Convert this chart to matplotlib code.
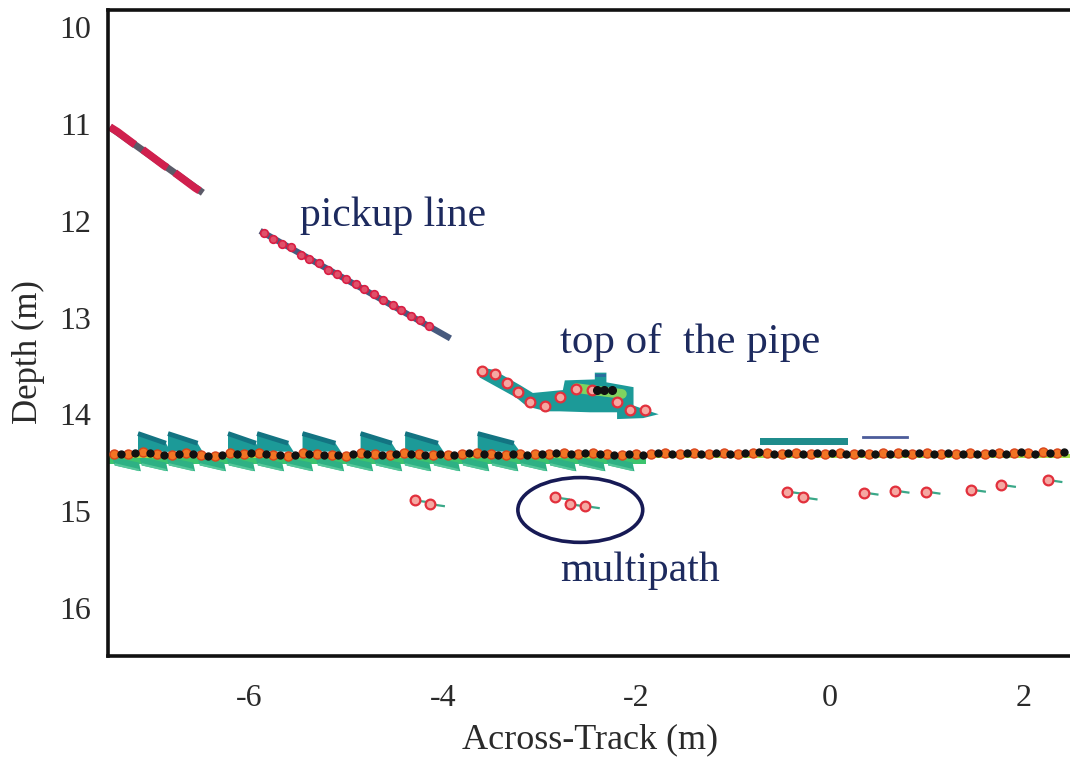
import matplotlib
matplotlib.use("Agg")
import matplotlib.pyplot as plt
from matplotlib.patches import Ellipse, Polygon

plt.rcParams['font.family'] = ['Liberation Serif', 'DejaVu Serif']

# ---- pickup line soundings ----
pickup_a_x = [-7.44, -7.36, -7.28, -7.20, -7.12, -7.04, -6.96, -6.88, -6.80, -6.72, -6.64, -6.56, -6.48]
pickup_a_depth = [11.03, 11.08, 11.14, 11.20, 11.25, 11.31, 11.37, 11.43, 11.48, 11.54, 11.60, 11.66, 11.71]

pickup_b_x = [-5.85, -5.76, -5.66, -5.57, -5.47, -5.38, -5.28, -5.19, -5.09, -5.00,
              -4.90, -4.81, -4.71, -4.62, -4.52, -4.43, -4.33, -4.24, -4.14]
pickup_b_depth = [12.13, 12.19, 12.24, 12.27, 12.35, 12.39, 12.44, 12.51, 12.55, 12.60,
                  12.65, 12.71, 12.76, 12.82, 12.87, 12.92, 12.98, 13.03, 13.09]
pickup_b_trace_x = [-5.86, -3.95]
pickup_b_trace_depth = [12.12, 13.20]

# ---- top of the pipe ----
pipe_x = [-3.60, -3.46, -3.34, -3.22, -3.10, -2.94, -2.79, -2.62, -2.46, -2.20, -2.07, -1.91]
pipe_depth = [13.55, 13.58, 13.68, 13.77, 13.87, 13.91, 13.82, 13.74, 13.75, 13.87, 13.96, 13.96]
pipe_top_x = [-2.41, -2.33, -2.25]
pipe_top_depth = [13.75, 13.75, 13.75]

pipe_footprint_x = [-3.63, -3.48, -3.20, -3.07, -2.76, -2.74, -2.43, -2.43, -2.31, -2.31, -2.03, -2.03,
                    -1.86, -1.77, -1.93, -2.20, -2.20, -2.48, -2.79, -2.93, -3.13, -3.24, -3.62]
pipe_footprint_depth = [13.51, 13.54, 13.70, 13.78, 13.75, 13.65, 13.64, 13.57, 13.57, 13.67, 13.72, 13.91,
                        13.97, 14.00, 14.04, 14.05, 13.98, 13.98, 13.97, 13.97, 13.92, 13.83, 13.62]
pipe_cap_x = [-2.43, -2.31]
pipe_cap_depth = [13.58, 13.62]

# ---- seabed ----
seabed_a_x = [-7.40, -7.25, -7.10, -6.95, -6.80, -6.65, -6.50, -6.35, -6.20, -6.05,
              -5.90, -5.75, -5.60, -5.45, -5.30, -5.15, -5.00, -4.85, -4.70, -4.55,
              -4.40, -4.25, -4.10, -3.95, -3.80, -3.65, -3.50, -3.35, -3.20, -3.05,
              -2.90, -2.75, -2.60, -2.45, -2.30, -2.15, -2.00, -1.85, -1.70, -1.55,
              -1.40, -1.25, -1.10, -0.95, -0.80, -0.65, -0.50, -0.35, -0.20, -0.05,
              0.10, 0.25, 0.40, 0.55, 0.70, 0.85, 1.00, 1.15, 1.30, 1.45,
              1.60, 1.75, 1.90, 2.05, 2.20, 2.35]
seabed_a_depth = [14.41, 14.41, 14.39, 14.41, 14.42, 14.40, 14.42, 14.43, 14.40, 14.41,
                  14.40, 14.42, 14.43, 14.40, 14.41, 14.42, 14.43, 14.40, 14.41, 14.42,
                  14.40, 14.41, 14.42, 14.42, 14.41, 14.40, 14.41, 14.42, 14.41, 14.41,
                  14.41, 14.40, 14.41, 14.40, 14.41, 14.42, 14.41, 14.41, 14.40, 14.41,
                  14.40, 14.41, 14.40, 14.41, 14.40, 14.40, 14.41, 14.40, 14.41, 14.41,
                  14.40, 14.41, 14.41, 14.40, 14.40, 14.41, 14.40, 14.41, 14.41, 14.40,
                  14.41, 14.40, 14.40, 14.40, 14.39, 14.40]
seabed_b_x = [-7.33, -7.18, -7.03, -6.88, -6.73, -6.58, -6.43, -6.28, -6.13, -5.98,
              -5.83, -5.68, -5.53, -5.38, -5.23, -5.08, -4.93, -4.78, -4.63, -4.48,
              -4.33, -4.18, -4.03, -3.88, -3.73, -3.58, -3.43, -3.28, -3.13, -2.98,
              -2.83, -2.68, -2.53, -2.38, -2.23, -2.08, -1.93, -1.78, -1.63, -1.48,
              -1.33, -1.18, -1.03, -0.88, -0.73, -0.58, -0.43, -0.28, -0.13, 0.02,
              0.17, 0.32, 0.47, 0.62, 0.77, 0.92, 1.07, 1.22, 1.37, 1.52,
              1.67, 1.82, 1.97, 2.12, 2.27, 2.42]
seabed_b_depth = [14.41, 14.40, 14.40, 14.42, 14.41, 14.41, 14.43, 14.42, 14.41, 14.40,
                  14.41, 14.42, 14.42, 14.41, 14.42, 14.42, 14.41, 14.41, 14.42, 14.41,
                  14.41, 14.42, 14.41, 14.42, 14.40, 14.41, 14.42, 14.41, 14.42, 14.41,
                  14.40, 14.41, 14.40, 14.41, 14.42, 14.41, 14.42, 14.40, 14.41, 14.40,
                  14.41, 14.40, 14.41, 14.40, 14.39, 14.41, 14.40, 14.41, 14.40, 14.40,
                  14.41, 14.40, 14.41, 14.41, 14.40, 14.40, 14.41, 14.40, 14.41, 14.41,
                  14.40, 14.41, 14.39, 14.41, 14.40, 14.39]

# teal beam footprints above the seabed (left edge of each)
seabed_wedge_x = [-7.15, -6.84, -6.22, -5.92, -5.45, -4.85, -4.39, -3.64]
seabed_wedge_len = [0.34, 0.36, 0.34, 0.38, 0.40, 0.38, 0.40, 0.44]
# green returns below the seabed
seabed_teeth_x = [-7.42, -7.14, -6.86, -6.54, -6.24, -5.94, -5.64, -5.32, -5.02,
                  -4.72, -4.42, -4.12, -3.82, -3.52, -3.22, -2.92, -2.62, -2.32]
green_band_x = [-7.46, -1.90]
light_band_x = [-7.46, 2.48]

# returns just above the seabed on the right side
ridge_bar_x = [-0.72, 0.19]
ridge_bar_depth = [14.25, 14.32]
ridge_line_x = [0.34, 0.80]
ridge_line_depth = 14.24

# ---- multipath ----
multipath_x = [-4.29, -4.13, -2.84, -2.69, -2.53, -0.44, -0.28, 0.35, 0.67, 0.99, 1.46, 1.77, 2.25]
multipath_depth = [14.89, 14.93, 14.86, 14.93, 14.95, 14.80, 14.86, 14.81, 14.79, 14.80, 14.78, 14.73, 14.68]
ring_center = (-2.58, 14.99)
ring_width = 1.29
ring_height = 0.67

x_ticks = [-6, -4, -2, 0, 2]
y_ticks = [10, 11, 12, 13, 14, 15, 16]

fig = plt.figure(figsize=(10.70, 7.61), dpi=100)
ax = fig.add_axes([108 / 1070, 1 - 656 / 761, 1 - 108 / 1070, (656 - 10) / 761])
ax.set_xlim(-7.46, 2.48)
ax.set_ylim(16.50, 9.82)

teal = '#1c9a98'
teal_dark = '#137482'
green = '#3cc46e'
light_green = '#a6df4a'
red_edge = '#e2303c'
red_face = '#f5a8a2'

# seabed returns
ax.fill_between(green_band_x, 14.42, 14.51, color=green, lw=0, zorder=1)
for x0 in seabed_teeth_x:
    ax.add_patch(Polygon([(x0, 14.44), (x0 + 0.28, 14.50), (x0 + 0.30, 14.59), (x0 + 0.03, 14.53)],
                         closed=True, fc='#2eb184', ec='none', zorder=1))
    ax.plot([x0 + 0.04, x0 + 0.27], [14.52, 14.575], color='#56c79a', lw=1.6, zorder=1.05)
ax.fill_between(light_band_x, 14.41, 14.455, color=light_green, lw=0, zorder=1.2)
for x0, ln in zip(seabed_wedge_x, seabed_wedge_len):
    ax.add_patch(Polygon([(x0, 14.38), (x0, 14.19), (x0 + ln * 0.85, 14.30), (x0 + ln, 14.39)],
                         closed=True, fc=teal, ec='none', zorder=1.5))
    ax.plot([x0, x0 + ln * 0.85], [14.20, 14.30], color=teal_dark, lw=3.5, zorder=1.6,
            solid_capstyle='butt')
ax.fill_between(ridge_bar_x, ridge_bar_depth[0], ridge_bar_depth[1], color='#1f8c8c', lw=0, zorder=1.5)
ax.plot(ridge_line_x, [ridge_line_depth] * 2, color='#4c5c9a', lw=2, zorder=1.5)

ax.plot(seabed_a_x, seabed_a_depth, 'o', ms=6.5, mfc='#f27424', mec='#d9441a', mew=1, zorder=3)
ax.plot(seabed_b_x, seabed_b_depth, 'o', ms=5, mfc='#111111', mec='#111111', zorder=3.1)

# pipe
ax.fill(pipe_footprint_x, pipe_footprint_depth, color=teal, lw=0, zorder=1.5)
ax.fill_between(pipe_cap_x, pipe_cap_depth[0], pipe_cap_depth[1], color='#2a6e9e', lw=0, zorder=1.6)
ax.plot([-2.62, -2.15], [13.73, 13.79], color='#7fd460', lw=7, zorder=1.7, solid_capstyle='round')
ax.plot(pipe_x, pipe_depth, 'o', ms=7, mfc=red_face, mec=red_edge, mew=1.6, zorder=3)
ax.plot(pipe_top_x, pipe_top_depth, 'o', ms=5.5, mfc='#111111', mec='#111111', zorder=3.2)

# pickup line
ax.plot([pickup_a_x[0], pickup_a_x[-1]], [pickup_a_depth[0], pickup_a_depth[-1]],
        color='#5b5a68', lw=5, zorder=2, solid_capstyle='butt')
ax.plot(pickup_a_x, pickup_a_depth, color='#d0204e', lw=5.5, zorder=2.1,
        dashes=(4, 1.2), solid_capstyle='butt')
ax.plot(pickup_b_trace_x, pickup_b_trace_depth, color='#475a7e', lw=4.5, zorder=2)
ax.plot(pickup_b_x, pickup_b_depth, 'o', ms=5.5, mfc='#e0506a', mec='#d81e44', mew=1.2, zorder=3)

# multipath returns
for mx, md in zip(multipath_x, multipath_depth):
    ax.plot([mx, mx + 0.14], [md, md + 0.02], color='#3aa888', lw=1.6, zorder=2)
ax.plot(multipath_x, multipath_depth, 'o', ms=7, mfc=red_face, mec=red_edge, mew=1.6, zorder=3)
ax.add_patch(Ellipse(ring_center, ring_width, ring_height, fill=False, ec='#171a55', lw=2.6, zorder=4))

# annotations
note_color = '#1d2a5e'
ax.text(-5.48, 12.05, 'pickup line', fontsize=30, color=note_color, ha='left', va='baseline')
ax.text(-2.79, 13.37, 'top of  the pipe', fontsize=31, color=note_color, ha='left', va='baseline')
ax.text(-2.79, 15.72, 'multipath', fontsize=30, color=note_color, ha='left', va='baseline')

ax.set_xticks(x_ticks)
ax.set_yticks(y_ticks)
ax.set_xticklabels(['-6', '-4', '-2', '0', '2'])
ax.tick_params(length=0, labelsize=23, colors='#2a2a2a')
ax.tick_params(axis='x', pad=20)
ax.tick_params(axis='y', pad=12)

for side in ('left', 'top', 'bottom'):
    ax.spines[side].set_linewidth(2.6)
    ax.spines[side].set_color('#111111')
ax.spines['right'].set_visible(False)

ax.set_xlabel('Across-Track (m)', fontsize=26, color='#2a2a2a', va='center', ha='center')
ax.xaxis.set_label_coords(0.501, -0.130)
ax.set_ylabel('Depth (m)', fontsize=25, color='#2a2a2a', va='center', ha='center')
ax.yaxis.set_label_coords(-0.083, 0.471)

fig.savefig('out.png', dpi=100, facecolor='white')
